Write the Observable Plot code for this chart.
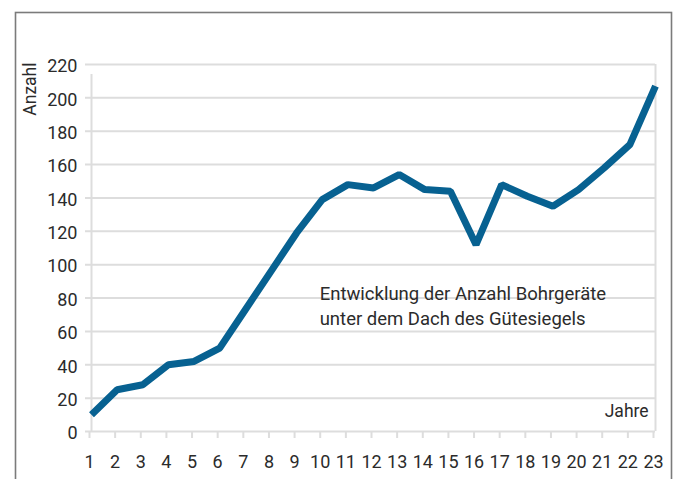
<!DOCTYPE html>
<html>
<head>
<meta charset="utf-8">
<script src="https://cdn.jsdelivr.net/npm/d3@7"></script>
<script src="https://cdn.jsdelivr.net/npm/@observablehq/plot@0.6"></script>
<style>
  html, body { margin: 0; padding: 0; background: #fff; }
  #chart { width: 678px; height: 479px; overflow: hidden; }
</style>
</head>
<body>
<div id="chart"></div>
<script>
// Data
const years = [1, 2, 3, 4, 5, 6, 7, 8, 9, 10, 11, 12, 13, 14, 15, 16, 17, 18, 19, 20, 21, 22, 23];
const counts = [10, 25, 28, 40, 42, 50, 73, 96, 119, 139, 148, 146, 154, 145, 144, 112, 148, 141, 135, 145, 158, 172, 207];
const yTicks = [0, 20, 40, 60, 80, 100, 120, 140, 160, 180, 200, 220];
const xTicks = years;
const yLabel = "Anzahl";
const xLabel = "Jahre";
const annotation = "Entwicklung der Anzahl Bohrgeräte\nunter dem Dach des Gütesiegels";

const data = years.map((y, i) => ({year: y, count: counts[i]}));

const font = "Roboto, 'DejaVu Sans', sans-serif";
const textColor = "#2b2b2b";
const gridColor = "#dddddd";
const lineColor = "#076191";

const chart = Plot.plot({
  width: 678,
  height: 479,
  marginLeft: 91,
  marginRight: 23,
  marginTop: 64,
  marginBottom: 48,
  style: {fontFamily: font, background: "#fff"},
  x: {domain: [1, 23]},
  y: {domain: [0, 220]},
  marks: [
    Plot.frame({stroke: "#7b7b7b", strokeWidth: 1.6, insetLeft: -76, insetTop: -52, insetRight: -16, insetBottom: -80}),
    Plot.ruleY(yTicks, {stroke: gridColor, strokeWidth: 2, insetLeft: -6}),
    Plot.ruleX([years[0]], {stroke: gridColor, strokeWidth: 2, insetTop: 10}),
    Plot.ruleX([years[years.length - 1]], {stroke: gridColor, strokeWidth: 2}),
    Plot.axisY({ticks: yTicks, tickSize: 0, tickPadding: 14, fontSize: 18, fill: textColor, dy: 2, label: null}),
    Plot.axisX({ticks: xTicks, tickSize: 7, tickPadding: 17, tickFormat: d => String(d), fontSize: 18, fill: textColor, stroke: gridColor, strokeWidth: 2, dx: -2, label: null}),
    Plot.line(data, {x: "year", y: "count", stroke: lineColor, strokeWidth: 7, strokeLinejoin: "miter", strokeLinecap: "butt"}),
    Plot.text([annotation], {x: 9.9, y: 64, text: d => d, textAnchor: "start", lineAnchor: "bottom", lineHeight: 1.36, fontSize: 18.5, fill: textColor}),
    Plot.text([xLabel], {x: 22.73, y: 8.4, text: d => d, textAnchor: "end", lineAnchor: "bottom", fontSize: 17.5, fill: textColor}),
    Plot.text([yLabel], {frameAnchor: "top-left", text: d => d, rotate: -90, textAnchor: "end", lineAnchor: "middle", dx: -61, dy: -2, fontSize: 17.5, fill: textColor})
  ]
});
document.getElementById("chart").appendChild(chart);
</script>
</body>
</html>
